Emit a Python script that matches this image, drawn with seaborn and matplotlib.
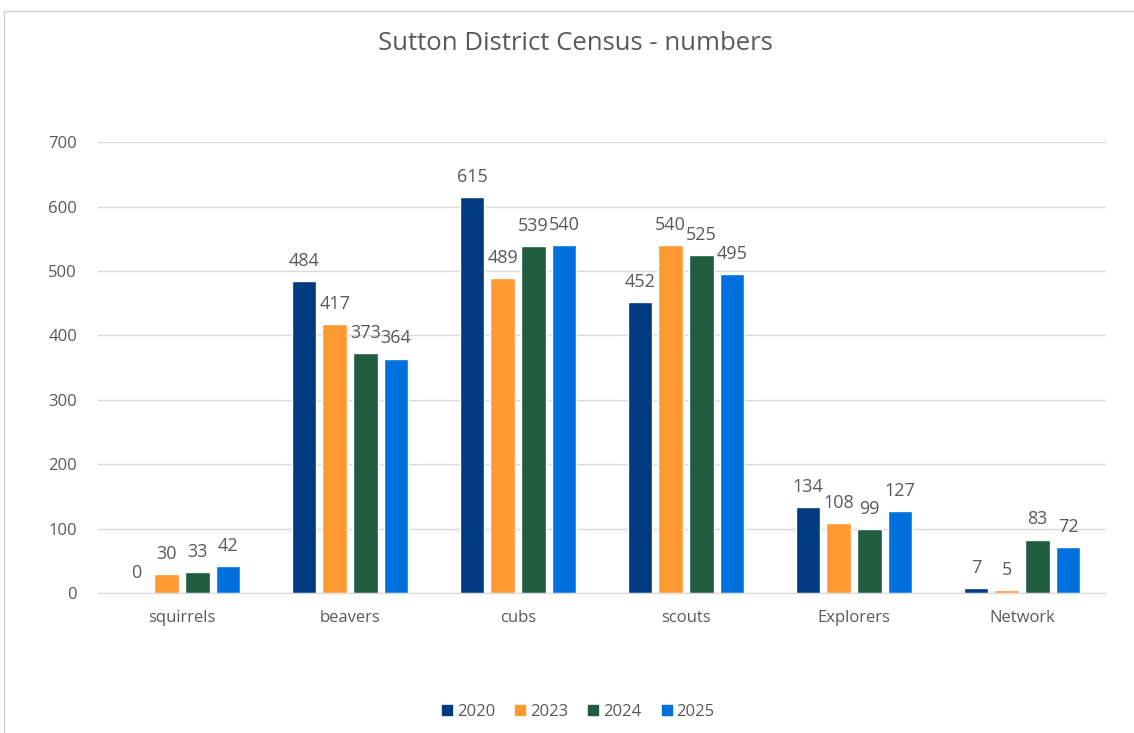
import pandas as pd
import numpy as np
import matplotlib
matplotlib.use('Agg')
import matplotlib.pyplot as plt
from matplotlib.patches import Rectangle
import seaborn as sns

# Data
sections = ['squirrels', 'beavers', 'cubs', 'scouts', 'Explorers', 'Network']
years = ['2020', '2023', '2024', '2025']
n2020 = [0, 484, 615, 452, 134, 7]
n2023 = [30, 417, 489, 540, 108, 5]
n2024 = [33, 373, 539, 525, 99, 83]
n2025 = [42, 364, 540, 495, 127, 72]
palette = ['#003a80', '#ff9a33', '#1f5c40', '#0070dd']

rows = []
for yr, vals in zip(years, [n2020, n2023, n2024, n2025]):
    for s, v in zip(sections, vals):
        rows.append({'section': s, 'year': yr, 'count': v})
df = pd.DataFrame(rows)

sns.set_style('white')
plt.rcParams['font.family'] = ['Open Sans', 'DejaVu Sans']
grey = '#595959'

fig = plt.figure(figsize=(11.34, 7.33), dpi=100)
ax = fig.add_axes([0.0864, 0.191, 0.889, 0.615])

sns.barplot(data=df, x='section', y='count', hue='year', order=sections,
            hue_order=years, palette=palette, width=0.73, gap=0.2,
            saturation=1, ax=ax, legend=True)

# value labels over each bar
for cont in ax.containers:
    ax.bar_label(cont, padding=8, fontsize=13, color=grey)

ax.set_ylim(0, 700)
ax.set_yticks(range(0, 701, 100))
ax.set_xlim(-0.5, len(sections) - 0.5)
ax.yaxis.grid(True, color='#d9d9d9', linewidth=1)
ax.set_axisbelow(True)
for side in ['top', 'right', 'left']:
    ax.spines[side].set_visible(False)
ax.spines['bottom'].set_color('#d9d9d9')
ax.tick_params(axis='y', length=0, pad=15, labelsize=12, labelcolor=grey)
ax.tick_params(axis='x', length=0, pad=12, labelsize=12, labelcolor=grey)
ax.set_xlabel('')
ax.set_ylabel('')

ax.get_legend().remove()
handles = [Rectangle((0, 0), 1, 1, color=c) for c in palette]
fig.legend(handles, years, loc='center', bbox_to_anchor=(0.51, 0.029), ncol=4,
           frameon=False, fontsize=12, labelcolor=grey, handlelength=0.6,
           handleheight=0.6, handletextpad=0.3, columnspacing=1.2)

fig.text(0.507, 0.94, 'Sutton District Census - numbers', ha='center',
         va='center', fontsize=18.5, color=grey)

fig.patches.append(Rectangle((0.0035, -0.01), 1.0, 0.995, transform=fig.transFigure,
                             fill=False, edgecolor='#d0d0d0', linewidth=1))

fig.savefig('out.png', dpi=100)
